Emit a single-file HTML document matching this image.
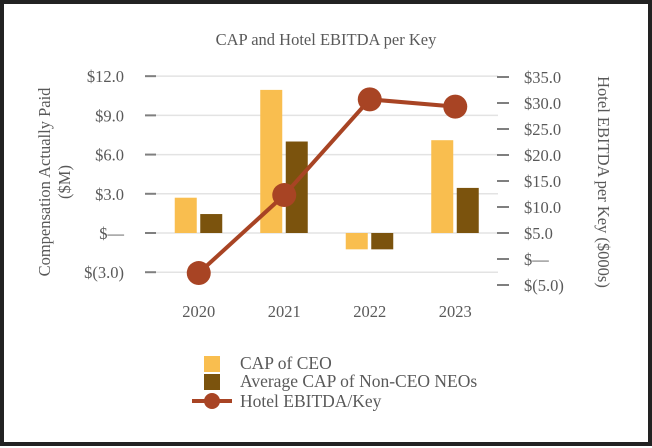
<!DOCTYPE html>
<html><head><meta charset="utf-8"><style>
body{margin:0;background:#fff}
svg{display:block;font-family:"Liberation Serif",serif}
</style></head><body>
<svg width="652" height="448" viewBox="0 0 652 448">
<rect x="2" y="2" width="648" height="442" fill="#fff" stroke="#222" stroke-width="4"/>
<text x="326" y="45" text-anchor="middle" font-size="16.5" fill="#595959">CAP and Hotel EBITDA per Key</text>
<g id="grid"></g><g id="bars"></g><g id="line"></g><g id="axes"></g>
<text transform="translate(50,182) rotate(-90)" text-anchor="middle" font-size="16.5" fill="#595959"><tspan x="0" dy="0">Compensation Actually Paid</tspan><tspan x="0" dy="20">($M)</tspan></text>
<text transform="translate(598,182) rotate(90)" text-anchor="middle" font-size="16.5" fill="#595959">Hotel EBITDA per Key ($000s)</text>
<g>
<rect x="204" y="356" width="16" height="16" fill="#F9BE4F"/>
<text x="240" y="369" font-size="17.5" fill="#595959">CAP of CEO</text>
<rect x="204" y="374" width="16" height="16" fill="#7B530D"/>
<text x="240" y="387" font-size="17.5" fill="#595959">Average CAP of Non-CEO NEOs</text>
<line x1="192" y1="401" x2="232" y2="401" stroke="#A84424" stroke-width="4"/>
<circle cx="212" cy="401" r="8" fill="#A84424"/>
<text x="240" y="407" font-size="17.5" fill="#595959">Hotel EBITDA/Key</text>
</g>
</svg>
<script>
const categories=["2020","2021","2022","2023"];
const capCEO=[2.7,10.95,-1.25,7.1];
const capNEO=[1.45,7.0,-1.25,3.45];
const ebitda=[-2.7,12.3,30.7,29.3];
const leftTicks=[-3,0,3,6,9,12];
const leftLabels=["$(3.0)","$—","$3.0","$6.0","$9.0","$12.0"];
const rightTicks=[-5,0,5,10,15,20,25,30,35];
const rightLabels=["$(5.0)","$—","$5.0","$10.0","$15.0","$20.0","$25.0","$30.0","$35.0"];
const NS="http://www.w3.org/2000/svg";
const x0=156,x1=498,bw=(x1-x0)/categories.length;
const yL=v=>233-v*13.07;
const yR=v=>259-v*5.2;
const xc=i=>x0+bw*(i+0.5);
function mk(p,t,a){const e=document.createElementNS(NS,t);for(const k in a)e.setAttribute(k,a[k]);document.getElementById(p).appendChild(e);return e;}
leftTicks.forEach((v,i)=>{
 const g=mk("grid","line",{x1:x0,x2:x1,y1:yL(v),y2:yL(v),stroke:"#e3e3e3","stroke-width":1.5});
 
 
 const t=mk("axes","line",{x1:145,x2:156,y1:yL(v),y2:yL(v),stroke:"#7f7f7f","stroke-width":2});
 
 
 const l=mk("axes","text",{x:124,y:yL(v)+6,"text-anchor":"end","font-size":16.5,fill:"#595959"});
 l.textContent=leftLabels[i];
 
 
});
rightTicks.forEach((v,i)=>{
 const t=mk("axes","line",{x1:497,x2:509,y1:yR(v),y2:yR(v),stroke:"#7f7f7f","stroke-width":2});
 
 
 const l=mk("axes","text",{x:524,y:yR(v)+6,"font-size":16.5,fill:"#595959"});
 l.textContent=rightLabels[i];
 
 
});
categories.forEach((c,i)=>{
 const cx=xc(i);
 const a=capCEO[i],b=capNEO[i];
 const r1=mk("bars","rect",{x:cx-24,y:Math.min(yL(a),yL(0)),width:22,height:Math.abs(yL(a)-yL(0)),fill:"#F9BE4F"});
 
 
 const r2=mk("bars","rect",{x:cx+1.5,y:Math.min(yL(b),yL(0)),width:22,height:Math.abs(yL(b)-yL(0)),fill:"#7B530D"});
 
 
 const l=mk("axes","text",{x:cx,y:317,"text-anchor":"middle","font-size":16.5,fill:"#595959"});
 l.textContent=c;
 
 
});
const pl=mk("line","polyline",{points:ebitda.map((v,i)=>xc(i)+","+yR(v)).join(" "),fill:"none",stroke:"#A84424","stroke-width":4});


ebitda.forEach((v,i)=>{
 const p=mk("line","circle",{cx:xc(i),cy:yR(v),r:12,fill:"#A84424"});
 
 
});
</script>
</body></html>
